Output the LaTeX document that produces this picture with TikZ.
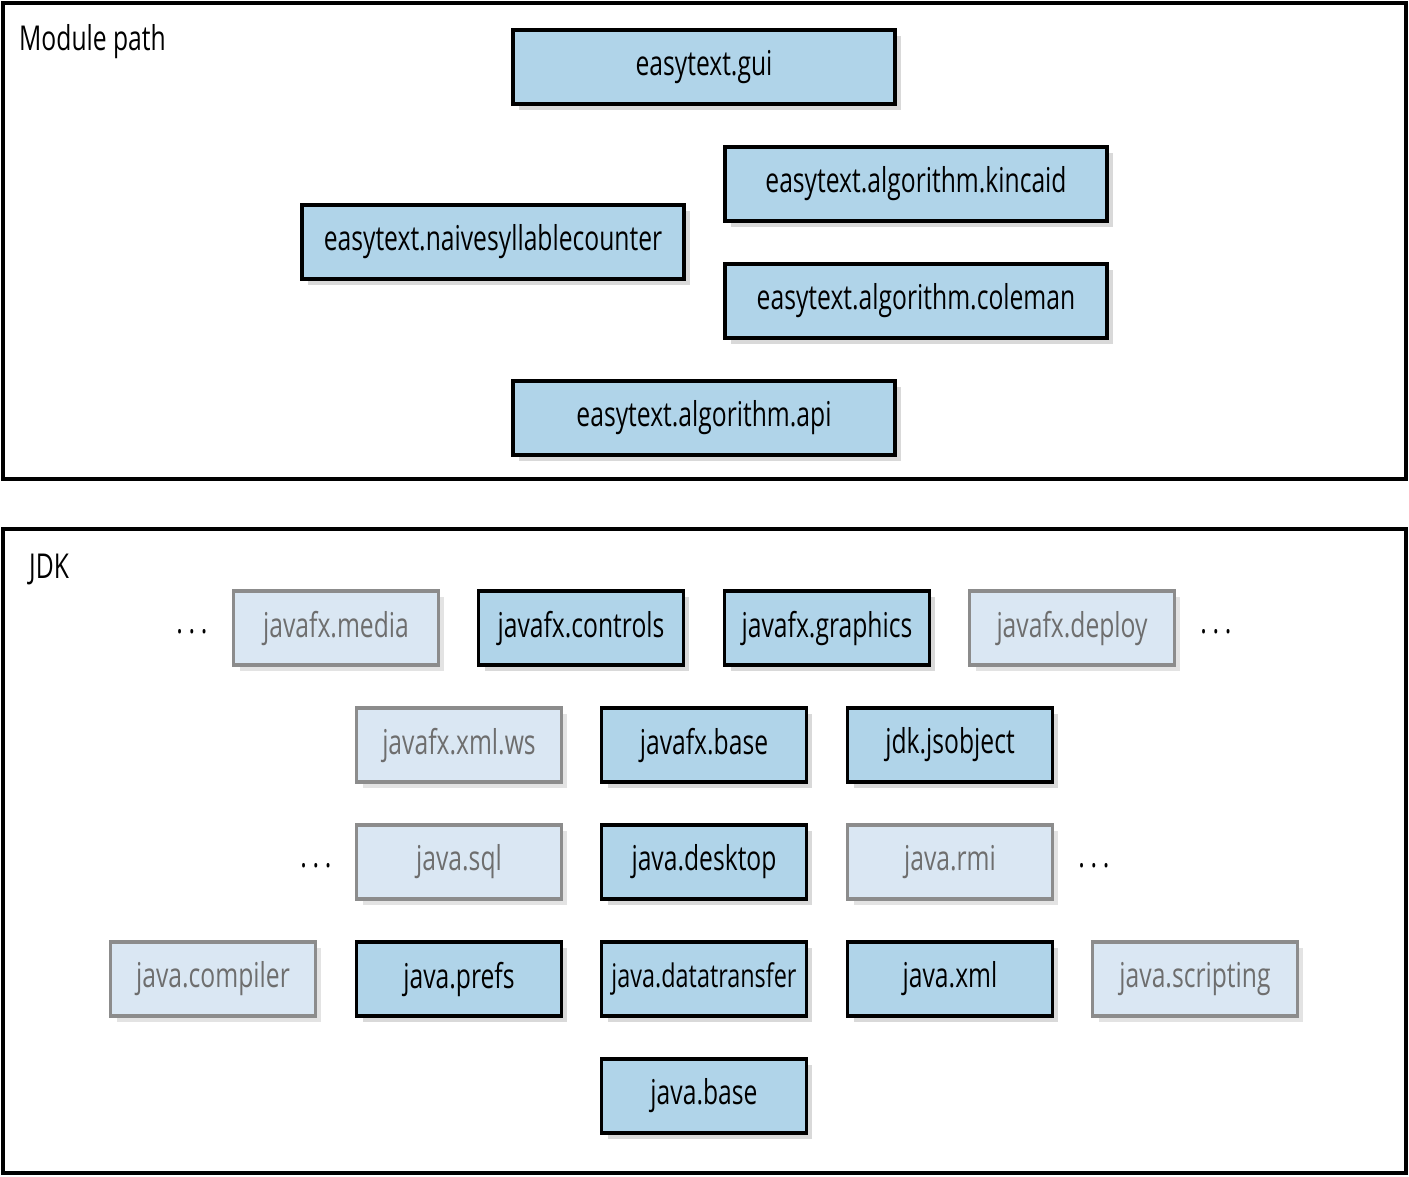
\documentclass[tikz,border=0pt]{standalone}
\usepackage{fontspec}
\setmainfont[FakeStretch=0.72]{Open Sans}
\usetikzlibrary{shadows}
\definecolor{modblue}{RGB}{176,212,233}
\definecolor{modpale}{RGB}{218,231,243}
\definecolor{modgrey}{RGB}{140,140,140}
\definecolor{txtgrey}{RGB}{110,110,110}
\begin{document}
\begin{tikzpicture}[x=0.02cm, y=-0.02cm,
	every node/.style={font=\fontsize{19.5}{22}\selectfont},
	used/.style={draw=black, line width=2pt, fill=modblue, minimum height=1.48cm, inner xsep=1pt,
		drop shadow={shadow xshift=0.12cm, shadow yshift=-0.12cm, opacity=0.3}},
	unused/.style={draw=modgrey, line width=2pt, fill=modpale, text=txtgrey, minimum height=1.48cm, inner xsep=1pt,
		drop shadow={shadow xshift=0.12cm, shadow yshift=-0.12cm, opacity=0.22}},
	wide/.style={minimum width=7.64cm},
	narrow/.style={minimum width=4.1cm},
	frame/.style={draw=black, line width=2pt}]
	\useasboundingbox (0,0) rectangle (1409,1176);
	% module path
	\draw[frame] (3,3) rectangle (1406,479);
	\node[anchor=west] (modlabel) at (13,42) {Module path};
	\node[used, wide] (gui) at (704,67) {easytext.gui};
	\node[used, wide] (kincaid) at (916,184) {easytext.algorithm.kincaid};
	\node[used, wide] (naive) at (493,242) {easytext.naivesyllablecounter};
	\node[used, wide] (coleman) at (916,301) {easytext.algorithm.coleman};
	\node[used, wide] (api) at (704,418) {easytext.algorithm.api};
	% jdk
	\draw[frame] (3,529) rectangle (1406,1173);
	\node[anchor=west] (jdklabel) at (23,569) {JDK};
	\node (dotsa) at (192,632) {.\,.\,.};
	\node[unused, narrow] (media) at (336,628) {javafx.media};
	\node[used, narrow] (controls) at (581,628) {javafx.controls};
	\node[used, narrow] (graphics) at (827,628) {javafx.graphics};
	\node[unused, narrow] (deploy) at (1072,628) {javafx.deploy};
	\node (dotsb) at (1216,632) {.\,.\,.};
	\node[unused, narrow] (xmlws) at (459,745) {javafx.xml.ws};
	\node[used, narrow] (fxbase) at (704,745) {javafx.base};
	\node[used, narrow] (jsobject) at (950,745) {jdk.jsobject};
	\node (dotsc) at (316,866) {.\,.\,.};
	\node[unused, narrow] (sql) at (459,862) {java.sql};
	\node[used, narrow] (desktop) at (704,862) {java.desktop};
	\node[unused, narrow] (rmi) at (950,862) {java.rmi};
	\node (dotsd) at (1094,866) {.\,.\,.};
	\node[unused, narrow] (compiler) at (213,979) {java.compiler};
	\node[used, narrow] (prefs) at (459,979) {java.prefs};
	\node[used, narrow] (transfer) at (704,979) {\fontsize{18.5}{22}\selectfont java.datatransfer};
	\node[used, narrow] (xml) at (950,979) {java.xml};
	\node[unused, narrow] (scripting) at (1195,979) {java.scripting};
	\node[used, narrow] (base) at (704,1096) {java.base};
\end{tikzpicture}
\end{document}
